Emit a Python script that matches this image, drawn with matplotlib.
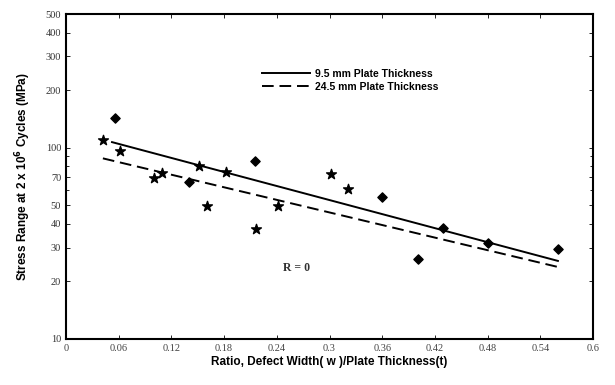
import matplotlib.pyplot as plt
import matplotlib.ticker as mticker

plt.rcParams['font.family'] = 'Liberation Sans'
plt.rcParams['font.size'] = 7.5

# Data
star_x = [0.042, 0.0615, 0.100, 0.109, 0.151, 0.161, 0.182, 0.216, 0.241, 0.302, 0.321]
star_y = [109.7, 96.0, 69.5, 73.8, 80.0, 49.6, 74.7, 37.6, 49.6, 72.9, 60.8]
diam_x = [0.0558, 0.140, 0.215, 0.360, 0.401, 0.429, 0.480, 0.560]
diam_y = [143.0, 66.2, 85.0, 55.2, 26.2, 38.0, 31.8, 29.5]

fit95_x = [0.0524, 0.560]
fit95_y = [107.0, 25.6]
fit245_x = [0.042, 0.560]
fit245_y = [88.0, 23.8]

xticks = [0, 0.06, 0.12, 0.18, 0.24, 0.3, 0.36, 0.42, 0.48, 0.54, 0.6]
xticklabels = ['0', '0.06', '0.12', '0.18', '0.24', '0.3', '0.36', '0.42', '0.48', '0.54', '0.6']
yticks = [10, 20, 30, 40, 50, 70, 100, 200, 300, 400, 500]
yminor = [60, 80, 90]

fig = plt.figure(figsize=(6.15, 3.85), dpi=100)
ax = fig.add_axes([0.1073, 0.1195, 0.857, 0.844])

ax.plot(fit95_x, fit95_y, color='black', linewidth=1.4, label='9.5 mm Plate Thickness')
ax.plot(fit245_x, fit245_y, color='black', linewidth=1.4, linestyle=(0, (6, 3)),
        label='24.5 mm Plate Thickness')
ax.scatter(star_x, star_y, marker='*', s=55, color='black', zorder=5)
ax.scatter(diam_x, diam_y, marker='D', s=22, color='black', zorder=5)

ax.set_yscale('log')
ax.set_xlim(0, 0.6)
ax.set_ylim(10, 500)
ax.set_xticks(xticks)
ax.set_xticklabels(xticklabels, family='Liberation Serif', color='#444444')
ax.yaxis.set_major_locator(mticker.FixedLocator(yticks))
ax.yaxis.set_major_formatter(mticker.FixedFormatter([str(v) for v in yticks]))
ax.yaxis.set_minor_locator(mticker.FixedLocator(yminor))
ax.yaxis.set_minor_formatter(mticker.NullFormatter())
for lbl in ax.get_yticklabels():
    lbl.set_family('Liberation Serif')
    lbl.set_color('#333333')

ax.tick_params(which='both', direction='in', top=True, right=True, length=3, width=0.6)
ax.tick_params(axis='y', which='minor', length=2)
for s in ax.spines.values():
    s.set_linewidth(1.5)

ax.set_xlabel('Ratio, Defect Width( w )/Plate Thickness(t)', fontsize=8.5, fontweight='bold', labelpad=2)
ax.set_ylabel('Stress Range at 2 x 10$^{\\mathbf{6}}$ Cycles (MPa)', fontsize=8.5, fontweight='bold', labelpad=9)

ax.legend(loc='upper left', bbox_to_anchor=(0.355, 0.86), frameon=False,
          prop={'weight': 'bold', 'size': 7.5}, handlelength=4.6, handletextpad=0.4,
          labelspacing=0.3)
ax.text(0.263, 23.5, 'R = 0', family='Liberation Serif', fontweight='bold',
        fontsize=8.5, ha='center', va='center', color='#333333')

fig.savefig('out.png', dpi=100)
